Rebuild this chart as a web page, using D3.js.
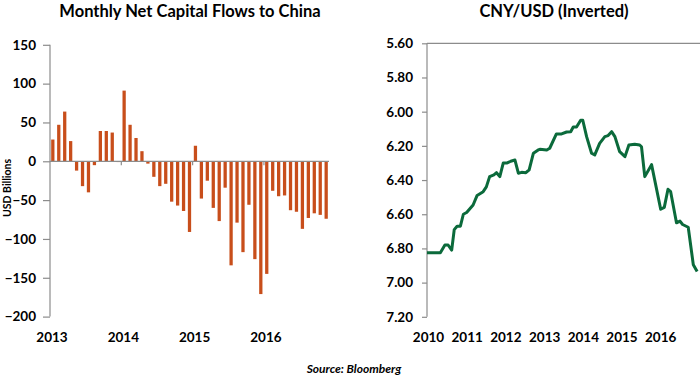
<!DOCTYPE html>
<meta charset="utf-8">
<head>
	<script src="https://d3js.org/d3.v7.min.js"></script>
</head>
<style>
	body {
		margin: 0;
		background: #fff;
	}
	text {
		font-family: "Lato", "Open Sans", sans-serif;
		font-weight: 700;
		fill: #000;
	}
	.axis path, .axis line {
		stroke: #8c8c8c;
		stroke-width: 1.2px;
	}
	#fxLine {
		fill: none;
		stroke: #0b6a3b;
		stroke-width: 3px;
		stroke-linejoin: round;
	}
	.bar {
		fill: #c84e1b;
	}
</style>
<body>
<svg id="chart" width="700" height="378"></svg>
<script>
	// ***** Data *****
	// monthly net capital flows, Jan 2013 .. Nov 2016 (USD billions)
	var flowMonths = d3.range(47);
	var flowValues = [28, 47, 64, 26, -12, -32, -40, -5, 39, 39, 37, -1,
		91, 47, 30, 13, -3, -20, -32, -29, -52, -57, -64, -91,
		20, -48, -25, -60, -77, -34, -134, -79, -117, -56, -126, -171,
		-145, -38, -45, -44, -63, -65, -87, -73, -67, -69, -74];
	var flowYears = ["2013", "2014", "2015", "2016"];
	var flowTicks = [150, 100, 50, 0, -50, -100, -150, -200];

	// CNY per USD
	var fxDates = ["2010-01-01", "2010-05-07", "2010-06-19", "2010-07-19", "2010-08-22",
		"2010-09-15", "2010-10-12", "2010-11-12", "2010-12-10", "2011-01-10",
		"2011-03-12", "2011-04-19", "2011-06-15", "2011-07-15", "2011-08-15",
		"2011-09-24", "2011-10-19", "2011-11-19", "2011-12-22", "2012-01-28",
		"2012-03-01", "2012-04-10", "2012-05-12", "2012-06-12", "2012-07-22",
		"2012-08-22", "2012-10-01", "2012-11-15", "2012-12-01", "2013-02-04",
		"2013-03-04", "2013-05-06", "2013-06-24", "2013-08-10", "2013-09-18",
		"2013-10-12", "2013-11-12", "2013-12-21", "2014-01-10", "2014-02-15",
		"2014-04-03", "2014-05-03", "2014-06-18", "2014-08-06", "2014-09-06",
		"2014-10-09", "2014-11-09", "2014-12-24", "2015-02-12", "2015-03-21",
		"2015-05-15", "2015-07-01", "2015-07-18", "2015-08-18", "2015-10-21",
		"2016-01-15", "2016-02-18", "2016-03-24", "2016-04-18", "2016-06-12",
		"2016-07-15", "2016-08-09", "2016-10-01", "2016-11-18", "2016-12-24"];
	var fxValues = [6.825, 6.825, 6.78, 6.78, 6.81,
		6.69, 6.67, 6.67, 6.60, 6.59,
		6.546, 6.49, 6.468, 6.44, 6.38,
		6.37, 6.357, 6.38, 6.30, 6.30,
		6.29, 6.283, 6.36, 6.355, 6.357,
		6.34, 6.243, 6.224, 6.22, 6.224,
		6.214, 6.13, 6.13, 6.119, 6.117,
		6.09, 6.09, 6.05, 6.05, 6.146,
		6.243, 6.253, 6.185, 6.146, 6.14,
		6.117, 6.146, 6.234, 6.263, 6.195,
		6.19, 6.195, 6.205, 6.38, 6.31,
		6.571, 6.56, 6.454, 6.468, 6.65,
		6.64, 6.66, 6.676, 6.896, 6.935];
	var fxYears = ["2010", "2011", "2012", "2013", "2014", "2015", "2016"];
	var fxTicks = [5.6, 5.8, 6.0, 6.2, 6.4, 6.6, 6.8, 7.0, 7.2];

	var svg = d3.select("#chart");
	var parseDate = d3.timeParse("%Y-%m-%d");

	// ***** Left: capital flows *****
	var left = svg.append("g");

	var x = d3.scaleBand()
		.domain(flowMonths)
		.range([50, 329])
		.paddingInner(0.45)
		.paddingOuter(0.2);
	var y = d3.scaleLinear()
		.domain([-200, 150])
		.range([316.6, 44.8]);

	left.append("text")
		.attr("x", 190)
		.attr("y", 17)
		.attr("text-anchor", "middle")
		.style("font-size", "16.5px")
		.text("Monthly Net Capital Flows to China");

	left.append("g")
		.attr("class", "axis")
		.attr("transform", "translate(50,0)")
		.call(d3.axisLeft(y).tickValues(flowTicks).tickSize(7).tickPadding(7))
		.call(g => g.select(".domain").attr("d", "M0," + y(-200) + "V" + y(150)))
		.selectAll("text")
		.style("font-size", "13.5px");

	left.selectAll(".bar")
		.data(flowValues)
		.enter().append("rect")
		.attr("class", "bar")
		.attr("x", (d, i) => x(i))
		.attr("width", x.bandwidth())
		.attr("y", d => y(Math.max(0, d)))
		.attr("height", d => Math.abs(y(d) - y(0)));

	// zero line with year ticks
	var step = x.step();
	left.append("line")
		.attr("x1", 50).attr("x2", 329)
		.attr("y1", y(0)).attr("y2", y(0))
		.style("stroke", "#8c8c8c").style("stroke-width", "1.2px");
	left.selectAll(".yrTick")
		.data(flowYears.slice(1))
		.enter().append("line")
		.attr("x1", (d, i) => 50 + (i + 1) * 12 * step)
		.attr("x2", (d, i) => 50 + (i + 1) * 12 * step)
		.attr("y1", y(0)).attr("y2", y(0) + 4)
		.style("stroke", "#8c8c8c").style("stroke-width", "1.2px");
	left.selectAll(".yrLabel")
		.data(flowYears)
		.enter().append("text")
		.attr("x", (d, i) => 52 + i * 12 * step)
		.attr("y", 342)
		.attr("text-anchor", "middle")
		.style("font-size", "13.5px")
		.text(d => d);

	left.append("text")
		.attr("transform", "translate(11,188) rotate(-90)")
		.attr("text-anchor", "middle")
		.style("font-size", "10.5px")
		.text("USD Billions");

	// ***** Right: CNY/USD inverted *****
	var right = svg.append("g");

	var xt = d3.scaleTime()
		.domain([parseDate("2010-01-01"), parseDate("2017-01-20")])
		.range([427, 700]);
	var yt = d3.scaleLinear()
		.domain([5.6, 7.2])
		.range([43.3, 316.8]);

	right.append("text")
		.attr("x", 554)
		.attr("y", 17)
		.attr("text-anchor", "middle")
		.style("font-size", "16.5px")
		.text("CNY/USD (Inverted)");

	right.append("g")
		.attr("class", "axis")
		.attr("transform", "translate(427,0)")
		.call(d3.axisLeft(yt).tickValues(fxTicks).tickFormat(d3.format(".2f")).tickSize(5).tickPadding(9))
		.call(g => g.select(".domain").attr("d", "M0," + yt(7.2) + "V" + yt(5.6)))
		.selectAll("text")
		.style("font-size", "13.5px");

	// top horizontal axis line (axis crosses at 5.60)
	right.append("line")
		.attr("x1", 427).attr("x2", 700)
		.attr("y1", yt(5.6)).attr("y2", yt(5.6))
		.style("stroke", "#8c8c8c").style("stroke-width", "1.2px");

	right.selectAll(".yrLabel")
		.data(fxYears)
		.enter().append("text")
		.attr("x", d => xt(parseDate(d + "-01-01")) + 1.5)
		.attr("y", 342)
		.attr("text-anchor", "middle")
		.style("font-size", "13.5px")
		.text(d => d);

	var fxLine = d3.line()
		.x((d, i) => xt(parseDate(fxDates[i])))
		.y(d => yt(d));

	right.append("path")
		.attr("id", "fxLine")
		.attr("d", fxLine(fxValues));

	// source note
	svg.append("text")
		.attr("x", 354)
		.attr("y", 373)
		.attr("text-anchor", "middle")
		.style("font-size", "12px")
		.style("font-style", "italic")
		.text("Source: Bloomberg");
</script>
</body>
